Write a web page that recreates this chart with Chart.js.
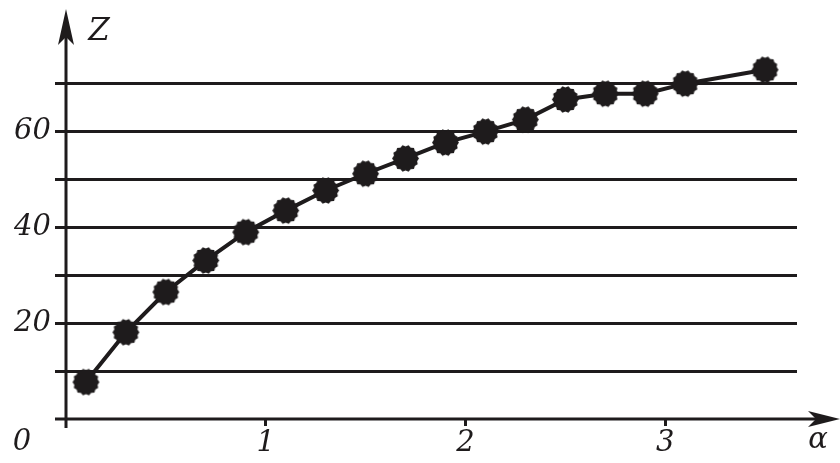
<!DOCTYPE html>
<html>
<head>
<meta charset="utf-8">
<script src="https://cdn.jsdelivr.net/npm/chart.js@4"></script>
<style>
  body { margin: 0; background: #fff; }
  canvas { display: block; }
</style>
</head>
<body>
<canvas id="myChart" width="840" height="463"></canvas>
<script>
const alphaVals = [0.1, 0.3, 0.5, 0.7, 0.9, 1.1, 1.3, 1.5, 1.7, 1.9, 2.1, 2.3, 2.5, 2.7, 2.9, 3.1, 3.5];
const zVals = [7.7, 18.1, 26.5, 33.1, 39.0, 43.5, 47.7, 51.2, 54.4, 57.7, 60.0, 62.5, 66.7, 67.9, 67.9, 70.0, 72.9];
const xTicks = [1, 2, 3];
const yGrid = [10, 20, 30, 40, 50, 60, 70];
const yLabels = [20, 40, 60];

const ink = '#1e1b1c';
const font = 'italic 29px "DejaVu Serif"';

// jagged round marker like the printed one
function gear(r) {
    const c = document.createElement('canvas');
    const s = 2 * r + 4;
    c.width = c.height = s;
    const g = c.getContext('2d');
    g.translate(s / 2, s / 2);
    g.beginPath();
    const n = 28;
    for (let i = 0; i < n; i++) {
        const rr = i % 2 ? r - 1.6 : r;
        const a = i / n * Math.PI * 2;
        if (i === 0) g.moveTo(rr * Math.cos(a), rr * Math.sin(a));
        else g.lineTo(rr * Math.cos(a), rr * Math.sin(a));
    }
    g.closePath();
    g.fillStyle = ink;
    g.fill();
    return c;
}
const marker = gear(13.5);

const axes = {
    id: 'axes',
    beforeDatasetsDraw(chart) {
        const c = chart.ctx;
        const x = chart.scales.x, y = chart.scales.y;
        const x0 = x.getPixelForValue(0), y0 = y.getPixelForValue(0);
        c.save();
        c.strokeStyle = ink;
        c.fillStyle = ink;
        c.lineWidth = 3;
        c.beginPath();
        c.moveTo(x0 - 11, y0); c.lineTo(826, y0);
        c.moveTo(x0, y0 + 9); c.lineTo(x0, 24);
        c.stroke();
        // arrow heads
        c.beginPath();
        c.moveTo(x0, 9); c.lineTo(x0 - 8, 45); c.lineTo(x0, 37); c.lineTo(x0 + 8, 45);
        c.closePath();
        c.fill();
        c.beginPath();
        c.moveTo(840, y0); c.lineTo(808, y0 - 8); c.lineTo(816, y0); c.lineTo(808, y0 + 8);
        c.closePath();
        c.fill();
        c.restore();
    },
    afterDraw(chart) {
        const c = chart.ctx;
        const y0 = chart.scales.y.getPixelForValue(0);
        c.save();
        c.fillStyle = ink;
        c.font = font;
        c.textAlign = 'center';
        c.textBaseline = 'middle';
        c.fillText('0', 22, y0 + 23);
        c.fillText('α', 818, y0 + 21);
        c.font = 'italic 31px "DejaVu Serif"';
        c.fillText('Z', 99, 32);
        c.restore();
    }
};

new Chart(document.getElementById('myChart'), {
    type: 'line',
    data: {
        datasets: [{
            data: alphaVals.map((a, i) => ({ x: a, y: zVals[i] })),
            borderColor: ink,
            borderWidth: 4,
            pointStyle: marker,
            tension: 0,
            clip: false
        }]
    },
    options: {
        responsive: false,
        animation: false,
        layout: { padding: { top: 4, right: 43 } },
        plugins: { legend: { display: false }, tooltip: { enabled: false } },
        scales: {
            x: {
                type: 'linear',
                min: 0,
                max: 3.66,
                afterFit: s => { s.height = 44; },
                afterBuildTicks: s => { s.ticks = xTicks.map(v => ({ value: v })); },
                grid: { drawOnChartArea: false, drawTicks: true, tickLength: 7, color: ink, lineWidth: 3 },
                border: { display: false },
                ticks: { color: ink, font: { family: 'DejaVu Serif', style: 'italic', size: 29 }, padding: 0, maxRotation: 0 }
            },
            y: {
                min: 0,
                max: 83,
                afterFit: s => { s.width = 66; },
                afterBuildTicks: s => { s.ticks = yGrid.map(v => ({ value: v })); },
                grid: { color: ink, lineWidth: 3, tickLength: 11 },
                border: { display: false },
                ticks: {
                    color: ink,
                    font: { family: 'DejaVu Serif', style: 'italic', size: 29 },
                    padding: 4,
                    callback: v => yLabels.includes(v) ? String(v) : ''
                }
            }
        }
    },
    plugins: [axes]
});
</script>
</body>
</html>
